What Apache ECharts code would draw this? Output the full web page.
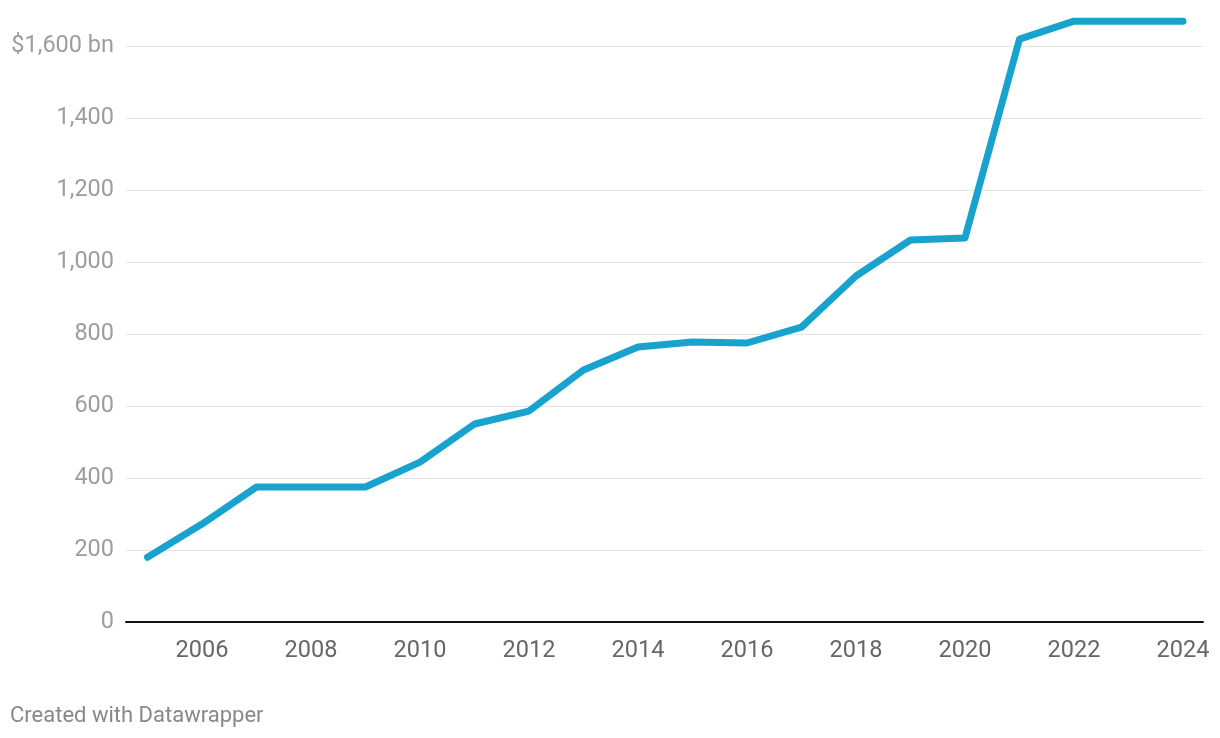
<!DOCTYPE html>
<html>
<head>
<meta charset="utf-8">
<script src="https://cdn.jsdelivr.net/npm/echarts@6/dist/echarts.min.js"></script>
<style>
html,body{margin:0;padding:0;background:#fff;}
#c{width:1220px;height:738px;}
</style>
</head>
<body>
<div id="c"></div>
<script>
const years = [2005,2006,2007,2008,2009,2010,2011,2012,2013,2014,2015,2016,2017,2018,2019,2020,2021,2022,2023,2024];
const values = [180,272,375,375,375,444,550,586,700,764,778,775,819,961,1061,1067,1619,1669,1669,1669];
const xTickYears = [2006,2008,2010,2012,2014,2016,2018,2020,2022,2024];
const yTicks = [0,200,400,600,800,1000,1200,1400,1600];

const chart = echarts.init(document.getElementById('c'));
chart.setOption({
  animation:false,
  grid:{left:126,right:17,top:46,bottom:116},
  xAxis:{
    type:'value', min:2004.606, max:2024.367,
    axisLine:{show:true,onZero:true,lineStyle:{color:'#111',width:2}},
    axisTick:{show:false},
    splitLine:{show:false},
    axisLabel:{
      customValues:xTickYears,
      color:'#666', fontSize:23.5, fontFamily:'Roboto', margin:17,
      formatter:v=>String(v)
    }
  },
  yAxis:{
    type:'value', min:0, max:1600, interval:200,
    axisLine:{show:false}, axisTick:{show:false},
    splitLine:{lineStyle:{color:'#e3e3e3',width:1}},
    axisLabel:{
      color:'#9d9d9d', fontSize:23.5, fontFamily:'Roboto', margin:12,
      padding:[2,0,0,0],
      formatter:v=> v===1600 ? '$1,600 bn' : v.toLocaleString('en-US')
    }
  },
  series:[{
    type:'line',
    data:years.map((y,i)=>[y,values[i]]),
    symbol:'none',
    clip:false,
    lineStyle:{color:'#18a3ce',width:7,cap:'round',join:'round'},
    z:3
  }],
  graphic:[{
    type:'text', left:10, top:705,
    style:{text:'Created with Datawrapper',fill:'#888',font:'22px Roboto'}
  }]
});
</script>
</body>
</html>
